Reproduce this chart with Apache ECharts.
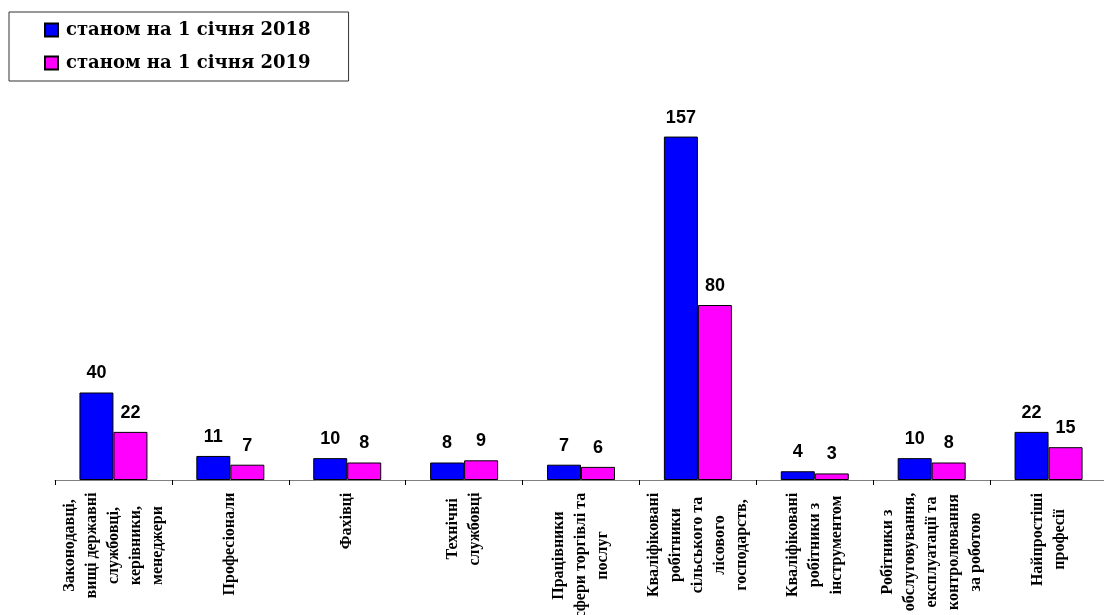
<!DOCTYPE html>
<html>
<head>
<meta charset="utf-8">
<script src="https://cdn.jsdelivr.net/npm/echarts@6/dist/echarts.min.js"></script>
<style>
html,body{margin:0;padding:0;background:#fff;}
#chart{width:1104px;height:615px;}
</style>
</head>
<body>
<div id="chart"></div>
<script>
var categories = [
  "Законодавці,\nвищі державні\nслужбовці,\nкерівники,\nменеджери",
  "Професіонали",
  "Фахівці",
  "Технічні\nслужбовці",
  "Працівники\nсфери торгівлі та\nпослуг",
  "Кваліфіковані\nробітники\nсільського та\nлісового\nгосподарств,",
  "Кваліфіковані\nробітники з\nінструментом",
  "Робітники з\nобслуговування,\nексплуатації та\nконтролювання\nза роботою",
  "Найпростіші\nпрофесії"
];
var seriesNames = ["станом на 1 січня 2018", "станом на 1 січня 2019"];
var values2018 = [40, 11, 10, 8, 7, 157, 4, 10, 22];
var values2019 = [22, 7, 8, 9, 6, 80, 3, 8, 15];

var LABEL_FONT_FAMILY = 'Liberation Serif';
var LABEL_FONT_SIZE = 16;
var measureCtx = document.createElement('canvas').getContext('2d');
measureCtx.font = 'bold ' + LABEL_FONT_SIZE + 'px "' + LABEL_FONT_FAMILY + '"';

// one rich style per category so that every line is centred in its own block
var rich = {};
categories.forEach(function (cat, i) {
  var w = 0;
  cat.split('\n').forEach(function (l) { w = Math.max(w, measureCtx.measureText(l).width); });
  rich['c' + i] = {
    width: Math.ceil(w) + 1,
    align: 'center',
    fontFamily: LABEL_FONT_FAMILY,
    fontWeight: 'bold',
    fontSize: LABEL_FONT_SIZE,
    lineHeight: 22,
    color: '#000'
  };
});

var chart = echarts.init(document.getElementById('chart'));
var valueLabel = {
  show: true,
  position: 'top',
  distance: 10,
  fontFamily: 'Liberation Sans, Arial, sans-serif',
  fontWeight: 'bold',
  fontSize: 18,
  color: '#000'
};
chart.setOption({
  backgroundColor: '#ffffff',
  animation: false,
  legend: {
    orient: 'vertical',
    left: 9,
    top: 12,
    padding: [8, 38, 8, 35],
    itemGap: 13,
    itemWidth: 13,
    itemHeight: 13,
    borderColor: '#333',
    borderWidth: 1,
    borderRadius: 0,
    icon: 'rect',
    textStyle: {
      fontFamily: 'DejaVu Serif',
      fontWeight: 'bold',
      fontSize: 18,
      lineHeight: 20,
      padding: [0, 0, 0, 3],
      color: '#000'
    },
    data: seriesNames
  },
  grid: {
    left: 55,
    width: 1052,
    top: 130,
    height: 350,
    containLabel: false,
    outerBoundsMode: 'none'
  },
  xAxis: {
    type: 'category',
    data: categories,
    axisLine: { show: true, lineStyle: { color: '#808080', width: 1 } },
    axisTick: { show: true, length: 5, lineStyle: { color: '#000' } },
    axisLabel: {
      interval: 0,
      rotate: 90,
      margin: 12,
      formatter: function (v, idx) {
        return v.split('\n').map(function (l) { return '{c' + idx + '|' + l + '}'; }).join('\n');
      },
      rich: rich
    }
  },
  yAxis: {
    type: 'value',
    min: 0,
    max: 160,
    show: false,
    splitLine: { show: false }
  },
  series: [
    {
      name: seriesNames[0],
      type: 'bar',
      data: values2018,
      barWidth: 34,
      barGap: '0%',
      itemStyle: { color: '#0000FF', borderColor: '#000', borderWidth: 1 },
      label: valueLabel
    },
    {
      name: seriesNames[1],
      type: 'bar',
      data: values2019,
      barWidth: 34,
      barGap: '0%',
      itemStyle: { color: '#FF00FF', borderColor: '#000', borderWidth: 1 },
      label: valueLabel
    }
  ]
});
</script>
</body>
</html>
